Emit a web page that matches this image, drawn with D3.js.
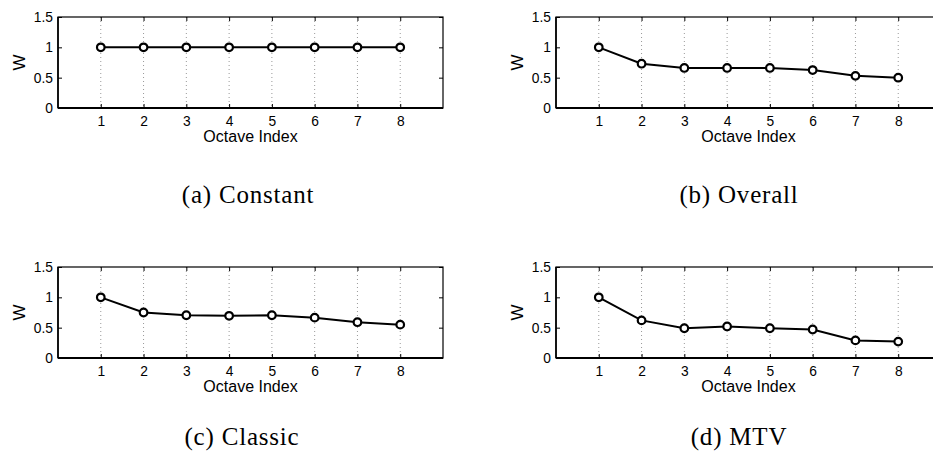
<!DOCTYPE html>
<html lang="en">
    <head>
        <meta charset="utf-8">
        <title>Octave weights</title>
        <script type="text/javascript" src="https://cdn.jsdelivr.net/npm/d3@7/dist/d3.min.js"></script>
        <style type="text/css">
            body { margin: 0; background: white; }
            .axis path, .axis line { stroke: black; }
            .caption { font-family: "Liberation Serif", "Times New Roman", serif; font-size: 25px; letter-spacing: 0.8px; }
        </style>
    </head>
    <body>
        <script type="text/javascript">
            var w = 933;
            var h = 456;

            // data
            var octaves = [1, 2, 3, 4, 5, 6, 7, 8];
            var constantW = [1, 1, 1, 1, 1, 1, 1, 1];
            var overallW = [1.0, 0.73, 0.66, 0.66, 0.66, 0.625, 0.53, 0.5];
            var classicW = [1.0, 0.75, 0.705, 0.695, 0.705, 0.665, 0.59, 0.55];
            var mtvW = [1.0, 0.62, 0.49, 0.52, 0.49, 0.47, 0.29, 0.27];
            var yTicks = [0, 0.5, 1, 1.5];
            var captions = ["(a) Constant", "(b) Overall", "(c) Classic", "(d) MTV"];

            var panels = [
                { values: constantW, left: 58, top: 17, capX: 248, capY: 203 },
                { values: overallW, left: 556, top: 17, capX: 739, capY: 203 },
                { values: classicW, left: 58, top: 267, capX: 242, capY: 445 },
                { values: mtvW, left: 556, top: 267, capX: 739, capY: 445 }
            ];
            var pw = 385, ph = 91;

            var svg = d3.select("body")
                        .append("svg")
                        .attr("width", w)
                        .attr("height", h);

            panels.forEach(function(p, k) {
                var g = svg.append("g")
                           .attr("transform", "translate(" + p.left + "," + p.top + ")");

                var xScale = d3.scaleLinear().domain([0, 9]).range([0, pw]);
                var yScale = d3.scaleLinear().domain([0, 1.5]).range([ph, 0]);

                // dotted grid
                g.selectAll("line.grid")
                 .data(octaves)
                 .enter()
                 .append("line")
                 .attr("class", "grid")
                 .attr("x1", function(d) { return xScale(d); })
                 .attr("x2", function(d) { return xScale(d); })
                 .attr("y1", 0)
                 .attr("y2", ph)
                 .attr("stroke", "#999")
                 .attr("stroke-width", 1)
                 .attr("stroke-dasharray", "1,3");

                // axes (inside ticks)
                var xAxis = d3.axisBottom(xScale).tickValues(octaves).tickSize(-4).tickPadding(8).tickFormat(d3.format("d"));
                var xTop = d3.axisTop(xScale).tickValues(octaves).tickSize(-4).tickFormat("");
                var yAxis = d3.axisLeft(yScale).tickValues(yTicks).tickSize(-4).tickPadding(5).tickFormat(function(d) { return d; });
                var yRight = d3.axisRight(yScale).tickValues(yTicks).tickSize(-4).tickFormat("");

                g.append("g").attr("class", "axis").attr("transform", "translate(0," + ph + ")").call(xAxis);
                g.append("g").attr("class", "axis").call(xTop);
                g.append("g").attr("class", "axis").call(yAxis);
                g.append("g").attr("class", "axis").attr("transform", "translate(" + pw + ",0)").call(yRight);
                g.selectAll(".axis .domain").attr("d", null);
                g.selectAll(".axis")
                 .attr("font-family", "'Liberation Sans', Arial, sans-serif")
                 .attr("font-size", 13.8);
                g.selectAll(".axis text").attr("fill", "black");

                // frame
                g.append("rect")
                 .attr("x", 0).attr("y", 0)
                 .attr("width", pw).attr("height", ph)
                 .attr("fill", "none")
                 .attr("stroke", "black")
                 .attr("stroke-width", 1.2);
                g.append("line").attr("x1", 0).attr("x2", pw).attr("y1", ph).attr("y2", ph)
                 .attr("stroke", "black").attr("stroke-width", 2);
                g.append("line").attr("x1", 0).attr("x2", 0).attr("y1", 0).attr("y2", ph)
                 .attr("stroke", "black").attr("stroke-width", 1.6);

                var line = d3.line()
                             .x(function(d, i) { return xScale(octaves[i]); })
                             .y(function(d) { return yScale(d); });

                g.append("path")
                 .datum(p.values)
                 .attr("d", line)
                 .attr("fill", "none")
                 .attr("stroke", "black")
                 .attr("stroke-width", 2);

                g.selectAll("circle")
                 .data(p.values)
                 .enter()
                 .append("circle")
                 .attr("cx", function(d, i) { return xScale(octaves[i]); })
                 .attr("cy", function(d) { return yScale(d); })
                 .attr("r", 3.8)
                 .attr("fill", "white")
                 .attr("stroke", "black")
                 .attr("stroke-width", 2.2);

                g.append("text")
                 .attr("x", pw / 2)
                 .attr("y", ph + 34)
                 .attr("text-anchor", "middle")
                 .style("font-family", "'Liberation Sans', Arial, sans-serif")
                 .style("font-size", "16px")
                 .text("Octave Index");

                g.append("text")
                 .attr("transform", "translate(-33," + (ph / 2) + ") rotate(-90)")
                 .attr("text-anchor", "middle")
                 .style("font-family", "'Liberation Sans', Arial, sans-serif")
                 .style("font-size", "17px")
                 .text("W");

                svg.append("text")
                   .attr("class", "caption")
                   .attr("x", p.capX)
                   .attr("y", p.capY)
                   .attr("text-anchor", "middle")
                   .text(captions[k]);
            });
        </script>
    </body>
</html>
